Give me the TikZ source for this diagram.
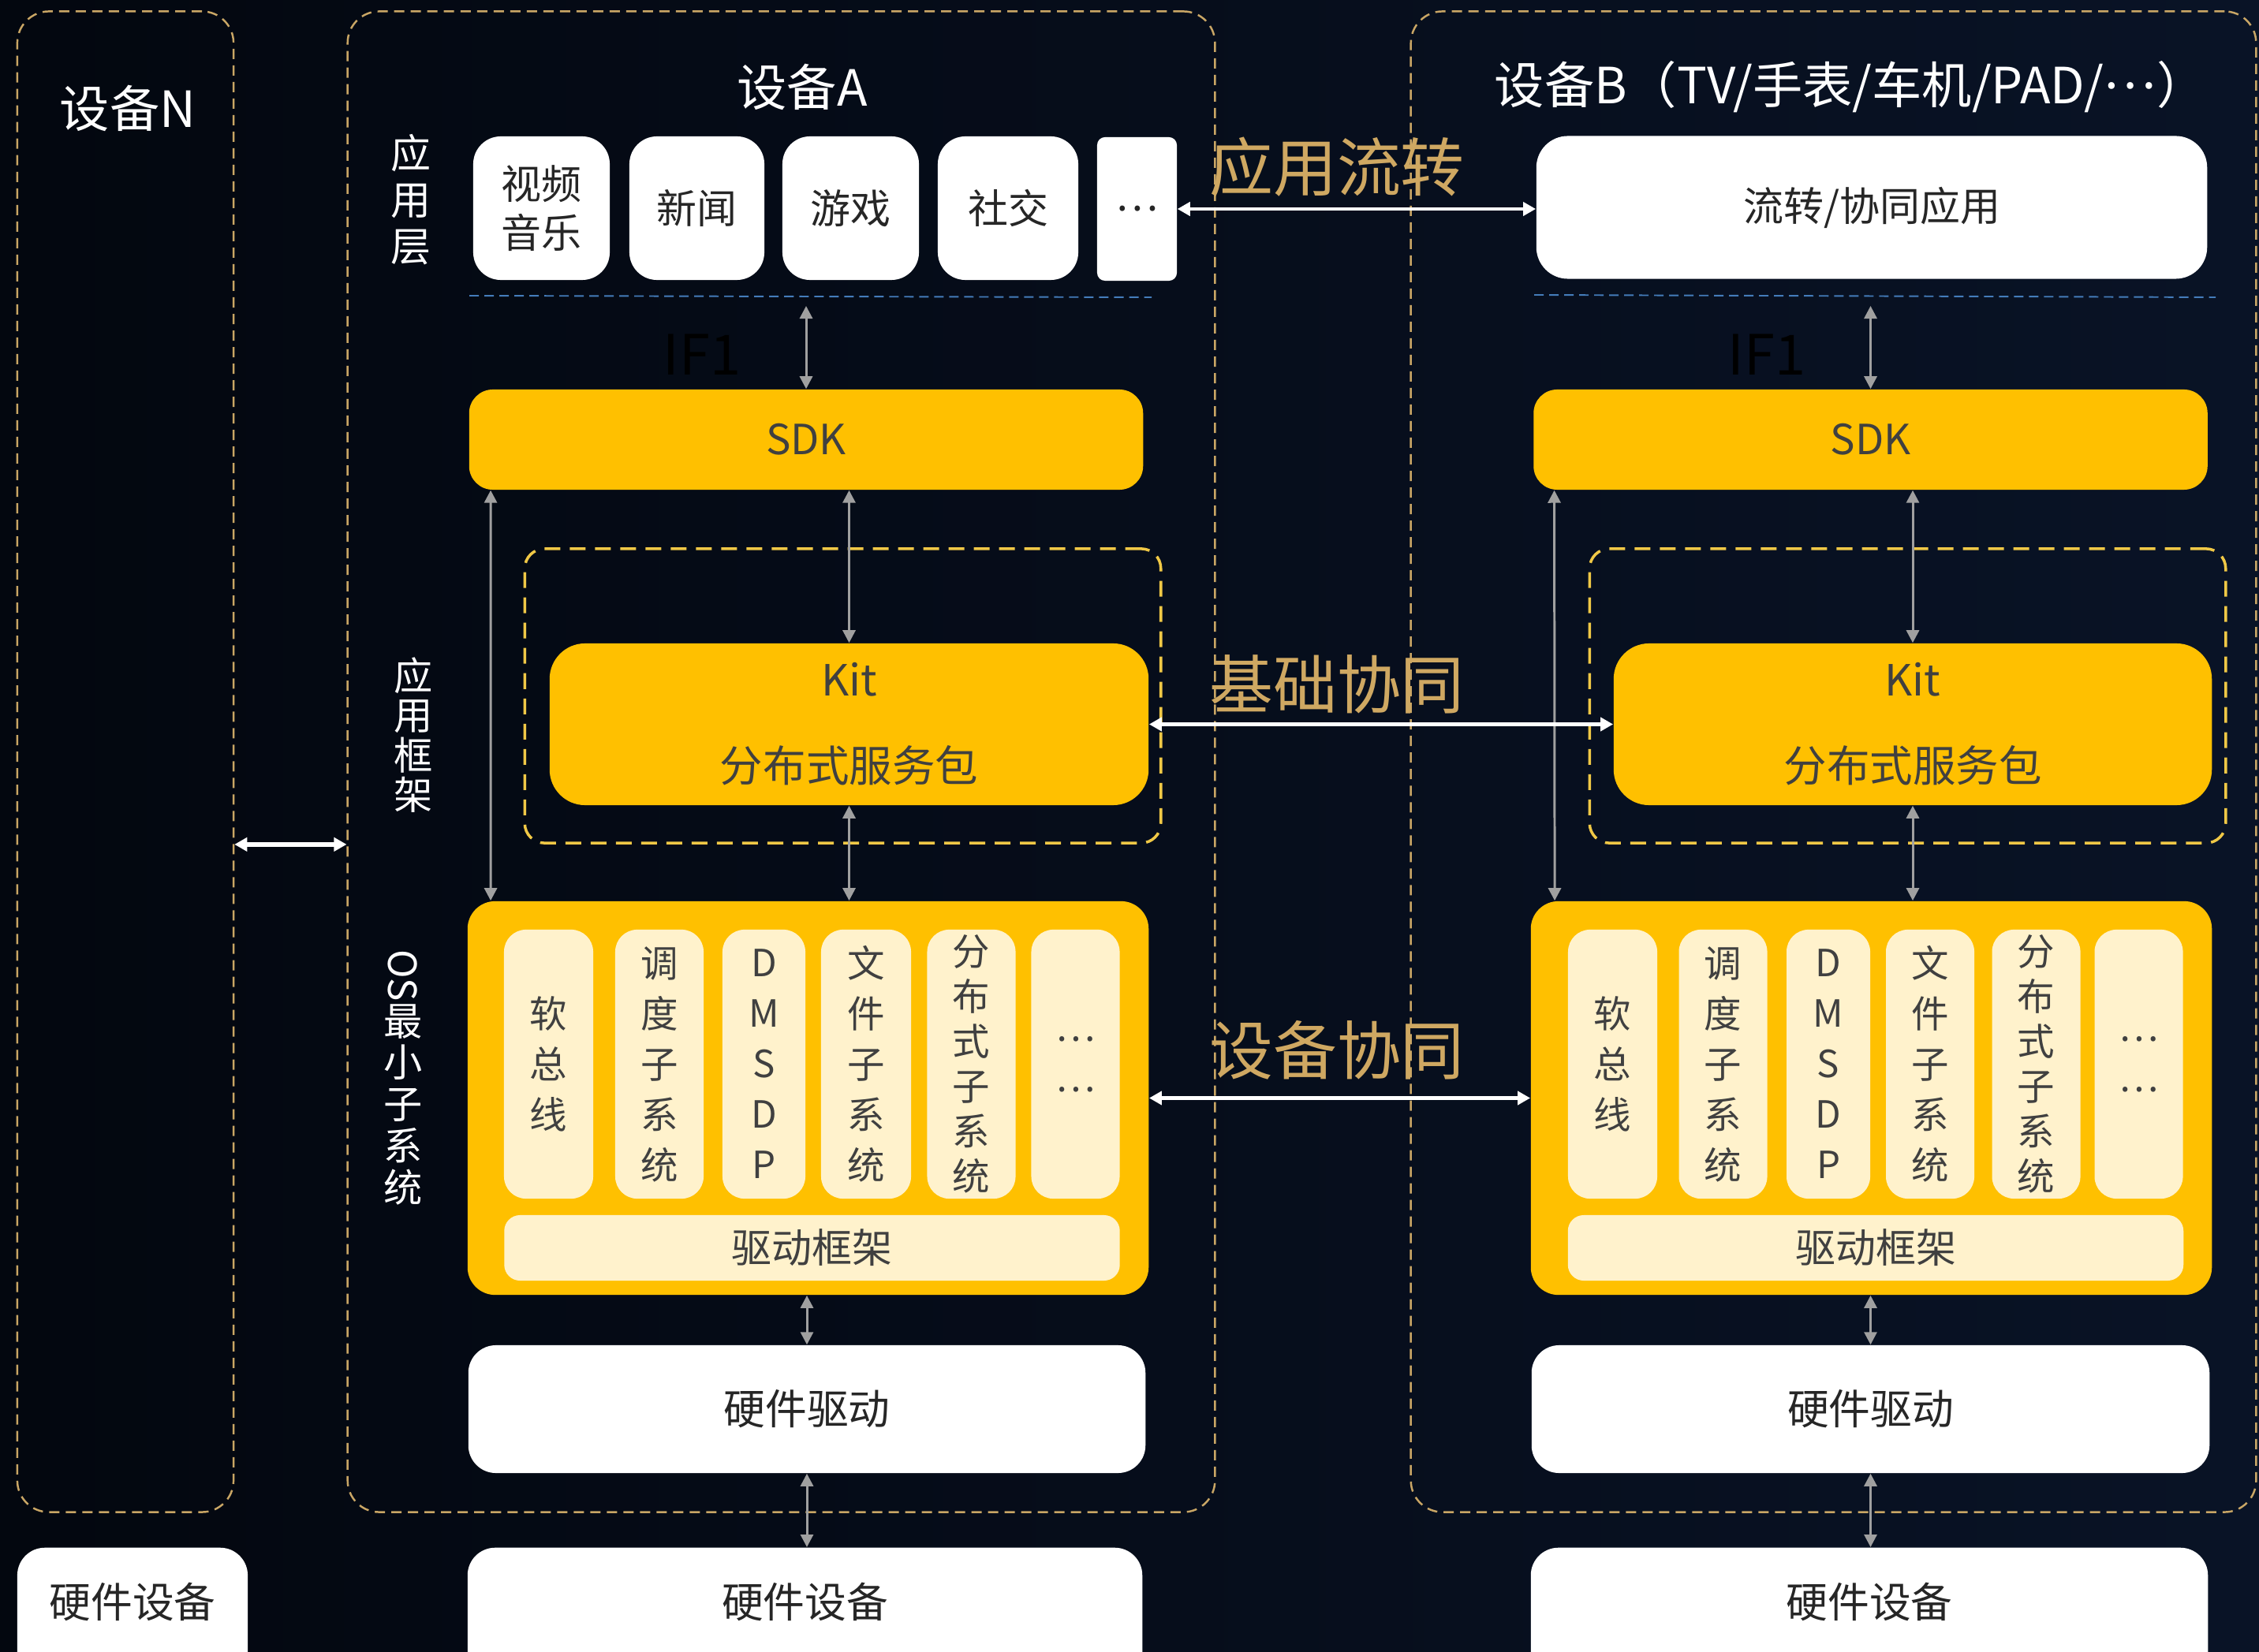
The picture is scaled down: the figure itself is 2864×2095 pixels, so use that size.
\documentclass[tikz,border=0pt]{standalone}
\usepackage{fontspec}
\setmainfont{Noto Sans CJK SC}
\usetikzlibrary{arrows.meta}
\definecolor{bgleft}{RGB}{3,7,15}
\definecolor{bgright}{RGB}{9,19,38}
\definecolor{gold}{RGB}{255,192,0}
\definecolor{cream}{RGB}{255,242,204}
\definecolor{frametan}{RGB}{201,166,101}
\definecolor{labeltan}{RGB}{207,168,98}
\definecolor{sepblue}{RGB}{68,124,186}
\definecolor{arrowgray}{RGB}{160,160,160}
\definecolor{kitdash}{RGB}{240,200,70}
\definecolor{boxtext}{RGB}{38,38,38}
\definecolor{goldtext}{RGB}{64,64,64}
\tikzstyle{devframe}=[draw=frametan,line width=0.7pt,
                      dash pattern=on 0.13cm off 0.08cm,
                      rounded corners=0.4cm,inner sep=0pt]
\tikzstyle{devtitle}=[text=white,font=\fontsize{18}{20}\selectfont]
\tikzstyle{sidelabel}=[text=white,align=center,inner sep=0pt]
\tikzstyle{appbox}=[fill=white,rounded corners=0.35cm,inner sep=0pt,
                    minimum height=1.82cm,text=boxtext,align=center,
                    font=\fontsize{14.5}{17.5}\selectfont]
\tikzstyle{hwbox}=[fill=white,rounded corners=0.35cm,inner sep=0pt,
                   text=boxtext,font=\fontsize{15}{18}\selectfont]
\tikzstyle{goldbox}=[fill=gold,inner sep=0pt,text=goldtext,
                     font=\fontsize{15}{18}\selectfont]
\tikzstyle{kitwrap}=[draw=kitdash,line width=1pt,
                     dash pattern=on 0.2cm off 0.12cm,
                     rounded corners=0.25cm,inner sep=0pt,
                     minimum width=8.06cm,minimum height=3.73cm]
\tikzstyle{colbox}=[fill=cream,rounded corners=0.28cm,inner sep=0pt,
                    minimum width=1.12cm,minimum height=3.41cm,
                    text=goldtext,align=center,
                    font=\fontsize{13.5}{18.2}\selectfont]
\tikzstyle{barbox}=[fill=cream,rounded corners=0.2cm,inner sep=0pt,
                    minimum width=7.8cm,minimum height=0.83cm,
                    text=goldtext,font=\fontsize{14.5}{17}\selectfont]
\tikzstyle{flowlabel}=[text=labeltan,font=\fontsize{23}{26}\selectfont]
\tikzstyle{iflabel}=[text=black,font=\fontsize{20}{22}\selectfont]
\tikzstyle{sepline}=[draw=sepblue,line width=0.55pt,
                     dash pattern=on 0.12cm off 0.07cm]
\tikzstyle{grayarrow}=[draw=arrowgray,line width=0.85pt,
  {Triangle[length=0.16cm,width=0.16cm]}-{Triangle[length=0.16cm,width=0.16cm]}]
\tikzstyle{whitearrow}=[draw=white,line width=1.2pt,
  {Triangle[length=0.16cm,width=0.17cm]}-{Triangle[length=0.16cm,width=0.17cm]}]
\begin{document}
\begin{tikzpicture}[x=0.01cm,y=-0.01cm]
    \shade[left color=bgleft,right color=bgright] (0,0) rectangle (2864,2095);
    \useasboundingbox (0,0) rectangle (2864,2095);
    \node (devN) at (159,966) [devframe,minimum width=2.74cm,minimum height=19.02cm]{};
    \node (devA) at (990.5,966) [devframe,minimum width=10.99cm,minimum height=19.02cm]{};
    \node (devB) at (2324.5,966) [devframe,minimum width=10.71cm,minimum height=19.02cm]{};
    \node (titleN) at (162,137) [devtitle]{设备N};
    \node (titleA) at (1017,110) [devtitle]{设备A};
    \node (titleB) at (2346,110) [devtitle]{设备B（TV/手表/车机/PAD/\raisebox{0.3em}{…}）};
    \node (lblApp) at (521,253) [sidelabel,font=\fontsize{14.5}{16.8}\selectfont]{应\\用\\层};
    \node (lblFw) at (524,932) [sidelabel,font=\fontsize{14}{14.3}\selectfont]{应\\用\\框\\架};
    \node (lblOs) at (511,1366) [sidelabel,font=\fontsize{14}{15}\selectfont]{\rotatebox{-90}{OS}\\最\\小\\子\\系\\统};
    \node (music) at (686.5,264) [appbox,minimum width=1.73cm]{视频\\音乐};
    \node (news) at (883.5,264) [appbox,minimum width=1.71cm]{新闻};
    \node (game) at (1078.5,264) [appbox,minimum width=1.73cm]{游戏};
    \node (social) at (1278,264) [appbox,minimum width=1.78cm]{社交};
    \node (moreA) at (1441.5,265) [appbox,minimum width=1.01cm,rounded corners=0.1cm]{…};
    \node (flowB) at (2373,263) [appbox,minimum width=8.5cm,minimum height=1.81cm,
                                 rounded corners=0.4cm]{流转/协同应用};
    \draw[sepline] (595,375) -- (1460,377);
    \draw[sepline] (1945,374) -- (2809,377);
    \node (ifA) at (890,450) [iflabel]{IF1};
    \node (ifB) at (2240,450) [iflabel]{IF1};
    \coordinate (ifTopA) at (1022,388);
    \coordinate (ifTopB) at (2371.5,388);
    \node (sdkA) at (1022,557.5) [goldbox,rounded corners=0.3cm,minimum width=8.54cm,minimum height=1.27cm]{SDK};
    \node (sdkB) at (2371.5,557.5) [goldbox,rounded corners=0.3cm,minimum width=8.54cm,minimum height=1.27cm]{SDK};
    \node (wrapA) at (1068.5,882.5) [kitwrap]{};
    \node (wrapB) at (2418.5,882.5) [kitwrap]{};
    \node (kitA) at (1076.5,918.5) [goldbox,rounded corners=0.45cm,minimum width=7.59cm,minimum height=2.05cm,
                                    align=center,font=\fontsize{15.5}{31}\selectfont]{Kit\\分布式服务包};
    \node (kitB) at (2425,918.5) [goldbox,rounded corners=0.45cm,minimum width=7.58cm,minimum height=2.05cm,
                                  align=center,font=\fontsize{15.5}{31}\selectfont]{Kit\\分布式服务包};
    \node (osA) at (1024.5,1392.5) [goldbox,rounded corners=0.35cm,minimum width=8.63cm,minimum height=4.99cm]{};
    \node (osB) at (2372.5,1392.5) [goldbox,rounded corners=0.35cm,minimum width=8.63cm,minimum height=4.99cm]{};
    \node (busA) at (695.5,1349.5) [colbox,minimum width=1.13cm]{软\\总\\线};
    \node (schedA) at (836,1349.5) [colbox]{调\\度\\子\\系\\统};
    \node (dmsdpA) at (968.5,1349.5) [colbox,minimum width=1.05cm]{D\\M\\S\\D\\P};
    \node (fileA) at (1098,1349.5) [colbox,minimum width=1.14cm]{文\\件\\子\\系\\统};
    \node (distA) at (1231.5,1349.5) [colbox,font=\fontsize{13.5}{16.2}\selectfont]{分\\布\\式\\子\\系\\统};
    \node (etcA) at (1363.5,1349.5) [colbox]{…\\…};
    \node (busB) at (2044.5,1349.5) [colbox,minimum width=1.13cm]{软\\总\\线};
    \node (schedB) at (2184.5,1349.5) [colbox]{调\\度\\子\\系\\统};
    \node (dmsdpB) at (2318,1349.5) [colbox,minimum width=1.06cm]{D\\M\\S\\D\\P};
    \node (fileB) at (2447,1349.5) [colbox]{文\\件\\子\\系\\统};
    \node (distB) at (2581.5,1349.5) [colbox,font=\fontsize{13.5}{16.2}\selectfont]{分\\布\\式\\子\\系\\统};
    \node (etcB) at (2711.5,1349.5) [colbox]{…\\…};
    \node (drvA) at (1029.5,1582.5) [barbox]{驱动框架};
    \node (drvB) at (2378,1582.5) [barbox]{驱动框架};
    \node (hwdA) at (1023,1787) [hwbox,minimum width=8.58cm,minimum height=1.62cm]{硬件驱动};
    \node (hwdB) at (2371.5,1787) [hwbox,minimum width=8.59cm,minimum height=1.62cm]{硬件驱动};
    \node (hwN) at (168,1962) [hwbox,anchor=north,minimum width=2.92cm,text height=0.89cm,text depth=1cm]{硬件设备};
    \node (hwA) at (1020.5,1962) [hwbox,anchor=north,minimum width=8.55cm,text height=0.89cm,text depth=1cm]{硬件设备};
    \node (hwB) at (2370,1962) [hwbox,anchor=north,minimum width=8.58cm,text height=0.89cm,text depth=1cm]{硬件设备};
    \draw[grayarrow] (ifTopA) -- (sdkA.north);
    \draw[grayarrow] ([xshift=0.28cm]sdkA.south west) -- ([xshift=0.3cm]osA.north west);
    \draw[grayarrow] (sdkA.south -| kitA.north) -- (kitA.north);
    \draw[grayarrow] (kitA.south) -- (kitA.south |- osA.north);
    \draw[grayarrow] (hwdA.north |- osA.south) -- (hwdA.north);
    \draw[grayarrow] (hwdA.south) -- (hwdA.south |- hwA.north);
    \draw[grayarrow] (ifTopB) -- (sdkB.north);
    \draw[grayarrow] ([xshift=0.27cm]sdkB.south west) -- ([xshift=0.31cm]osB.north west);
    \draw[grayarrow] (sdkB.south -| kitB.north) -- (kitB.north);
    \draw[grayarrow] (kitB.south) -- (kitB.south |- osB.north);
    \draw[grayarrow] (hwdB.north |- osB.south) -- (hwdB.north);
    \draw[grayarrow] (hwdB.south) -- (hwdB.south |- hwB.north);
    \node (lblFlow) at (1695,212) [flowlabel]{应用流转};
    \node (lblBase) at (1695,868) [flowlabel]{基础协同};
    \node (lblDev) at (1695,1332) [flowlabel]{设备协同};
    \draw[whitearrow] (moreA.east) -- (moreA.east -| flowB.west);
    \draw[whitearrow] (kitA.east) -- (kitB.west);
    \draw[whitearrow] (osA.east) -- (osB.west);
    \draw[whitearrow,line width=1.7pt] (devN.east |- wrapA.south) -- (devA.west |- wrapA.south);
  \end{tikzpicture}
\end{document}
